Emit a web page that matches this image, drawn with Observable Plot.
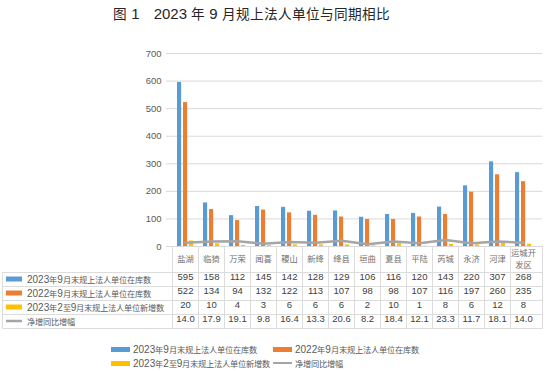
<!DOCTYPE html>
<html><head><meta charset="utf-8">
<script src="https://cdn.jsdelivr.net/npm/d3@7"></script>
<script src="https://cdn.jsdelivr.net/npm/@observablehq/plot@0.6"></script>
<style>
@font-face { font-family: "CJKSmall"; src: local("Noto Sans CJK SC"), local("Noto Sans CJK SC Regular"), local("NotoSansCJKsc-Regular"); size-adjust: 82%; unicode-range: U+2E80-9FFF, U+3000-303F, U+FF00-FFEF; }
@font-face { font-family: "CJKTitle"; src: local("Noto Sans CJK SC"), local("Noto Sans CJK SC Regular"), local("NotoSansCJKsc-Regular"); size-adjust: 91%; unicode-range: U+2E80-9FFF, U+3000-303F, U+FF00-FFEF; }
body { margin:0; width:556px; height:371px; position:relative; background:#fff; overflow:hidden; }
#title { position:absolute; left:0; top:3px; width:503px; text-align:center; font: 15px "Liberation Sans", "CJKTitle", sans-serif; color:#262626; white-space:pre; }
#chart { position:absolute; left:0; top:30px; }
.mix { font-family: "Liberation Sans", "CJKSmall", sans-serif; }
#legend { position:absolute; left:0; top:0; font: 10px "Liberation Sans", "CJKSmall", sans-serif; color:#595959; }
.item { position:absolute; display:flex; align-items:center; height:14px; white-space:nowrap; }
.sw { width:19px; height:5px; margin-right:3px; flex:none; }
.ln { width:19px; height:2.5px; margin-right:3px; flex:none; }
</style>
</head><body>
<div id="title">图 1　2023 年 9 月规上法人单位与同期相比</div>
<div id="chart"></div>
<div id="legend"></div>
<script>
const categories = ["盐湖","临猗","万荣","闻喜","稷山","新绛","绛县","垣曲","夏县","平陆","芮城","永济","河津","运城开\n发区"];
const stock2023 = [595,158,112,145,142,128,129,106,116,120,143,220,307,268];
const stock2022 = [522,134,94,132,122,113,107,98,98,107,116,197,260,235];
const newAdded = [20,10,4,3,6,6,6,2,10,1,8,6,12,8];
const growth = [14.0,17.9,19.1,9.8,16.4,13.3,20.6,8.2,18.4,12.1,23.3,11.7,18.1,14.0];
const seriesNames = ["2023年9月末规上法人单位在库数","2022年9月末规上法人单位在库数","2023年2至9月末规上法人单位新增数","净增同比增幅"];
const colors = ["#5B9BD5","#ED7D31","#FFC000","#A5A5A5"];
const yTicks = [0,100,200,300,400,500,600,700];

const W = 556, H = 305, mL = 166, mR = 14, mT = 23, mB = 89;
const bw = (W - mL - mR) / categories.length;
const barW = 5;
const rows = categories.map((c, i) => ({c, a: stock2023[i], b: stock2022[i], n: newAdded[i], g: growth[i]}));
const bottom = H - mB;
const rowDy = [33, 47, 61, 75];
const cellText = {fill: "#404040", fontSize: 9.5, fontFamily: "Liberation Sans, sans-serif", frameAnchor: "bottom"};

const plot = Plot.plot({
  width: W, height: H, marginLeft: mL, marginRight: mR, marginTop: mT, marginBottom: mB,
  style: {fontFamily: "Liberation Sans, sans-serif", background: "#fff"},
  x: {type: "band", domain: categories, padding: 0, axis: null},
  y: {domain: [0, 700], axis: null},
  marks: [
    Plot.gridY(yTicks, {stroke: "#D9D9D9", strokeOpacity: 1}),
    Plot.axisY(yTicks, {tickSize: 0, tickPadding: 5, label: null, fill: "#595959", fontSize: 9.5}),
    Plot.barY(rows, {x: "c", y: "a", fill: colors[0], insetLeft: 5, insetRight: bw - 5 - barW}),
    Plot.barY(rows, {x: "c", y: "b", fill: colors[1], insetLeft: 11, insetRight: bw - 11 - barW}),
    Plot.barY(rows, {x: "c", y: "n", fill: colors[2], insetLeft: 17, insetRight: bw - 17 - barW}),
    Plot.line(rows, {x: "c", y: "g", stroke: colors[3], strokeWidth: 2.5}),
    Plot.text(rows, {x: "c", text: "c", frameAnchor: "bottom", dy: 12, lineAnchor: "middle", fill: "#707070", fontSize: 8.3, lineHeight: 1.45, fontFamily: "Noto Sans CJK SC, sans-serif"}),
    Plot.text(rows, {x: "c", text: d => String(d.a), dy: rowDy[0], ...cellText}),
    Plot.text(rows, {x: "c", text: d => String(d.b), dy: rowDy[1], ...cellText}),
    Plot.text(rows, {x: "c", text: d => String(d.n), dy: rowDy[2], ...cellText}),
    Plot.text(rows, {x: "c", text: d => d.g.toFixed(1), dy: rowDy[3], ...cellText})
  ]
});
document.getElementById("chart").appendChild(plot);

// table grid and row labels
const svg = d3.select(plot);
const x = plot.scale("x");
const g = svg.append("g").attr("stroke", "#DCDCDC").attr("stroke-width", 1).attr("fill", "none");
const left = 2.5, right = W - mR + 0.5;
[26, 40, 54, 68, 82].forEach(o => {
  g.append("line").attr("x1", left).attr("x2", right).attr("y1", bottom + o + 0.5).attr("y2", bottom + o + 0.5);
});
g.append("line").attr("x1", left).attr("x2", left).attr("y1", bottom + 26).attr("y2", bottom + 82.5);
categories.forEach(c => {
  const xx = Math.round(x.apply(c)) + 0.5;
  g.append("line").attr("x1", xx).attr("x2", xx).attr("y1", bottom).attr("y2", bottom + 82.5);
});
g.append("line").attr("x1", right).attr("x2", right).attr("y1", bottom).attr("y2", bottom + 82.5);

const lab = svg.append("g").attr("text-anchor", "start");
seriesNames.forEach((name, i) => {
  const cy = bottom + rowDy[i];
  if (i < 3) {
    lab.append("rect").attr("x", 6).attr("y", cy - 2.5).attr("width", 16).attr("height", 5).attr("fill", colors[i]);
  } else {
    lab.append("line").attr("x1", 6).attr("x2", 22).attr("y1", cy).attr("y2", cy).attr("stroke", colors[i]).attr("stroke-width", 2.5);
  }
  lab.append("text").attr("class", "mix").attr("x", 27).attr("y", cy).attr("dy", "0.35em")
    .attr("text-anchor", "start").attr("font-size", 10).attr("fill", "#595959").text(name);
});

// legend
const legend = document.getElementById("legend");
const pos = [[111, 342], [273, 342], [111, 356], [273, 356]];
seriesNames.forEach((name, i) => {
  const it = document.createElement("div");
  it.className = "item";
  it.style.left = pos[i][0] + "px";
  it.style.top = pos[i][1] + "px";
  const sw = document.createElement("span");
  sw.className = i < 3 ? "sw" : "ln";
  sw.style.background = colors[i];
  const t = document.createElement("span");
  t.textContent = name;
  it.appendChild(sw); it.appendChild(t);
  legend.appendChild(it);
});
</script>
</body></html>
